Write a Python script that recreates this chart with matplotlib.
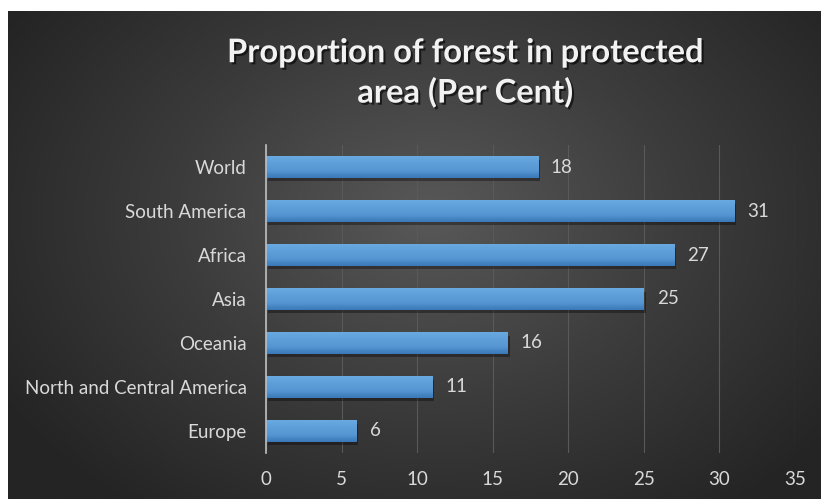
import numpy as np
import matplotlib
matplotlib.use("Agg")
import matplotlib.pyplot as plt
import matplotlib.patheffects as pe
from matplotlib.colors import LinearSegmentedColormap

# Proportion of forest in protected area, per cent
regions = ["World", "South America", "Africa", "Asia", "Oceania",
           "North and Central America", "Europe"]
share = [18, 31, 27, 25, 16, 11, 6]
xticks = [0, 5, 10, 15, 20, 25, 30, 35]

plt.rcParams["font.family"] = ["Lato", "DejaVu Sans"]

W, H = 821, 499
fig = plt.figure(figsize=(W / 100, H / 100), dpi=100, facecolor="white")

# dark backdrop with a soft radial light in the middle
bg = fig.add_axes([8 / W, 0, (W - 9) / W, (H - 11) / H])
bg.set_axis_off()
yy, xx = np.mgrid[0:1:300j, 0:1:500j]
d = np.sqrt(((xx - 0.52) / 0.62) ** 2 + ((yy - 0.58) / 0.75) ** 2)
d = np.clip(d, 0, 1)
bg_cmap = LinearSegmentedColormap.from_list("bg", ["#585858", "#3c3c3c", "#242424"])
bg.imshow(d, cmap=bg_cmap, aspect="auto", extent=[0, 1, 0, 1], origin="lower",
          interpolation="bicubic")
bg.set_xlim(0, 1)
bg.set_ylim(0, 1)

ax = fig.add_axes([266 / W, 1 - 453 / H, (795 - 266) / W, (453 - 145) / H])
ax.set_facecolor("none")

y = np.arange(len(regions))
bars = ax.barh(y, share, height=0.48, color="#5b9bd5", zorder=3)

bar_cmap = LinearSegmentedColormap.from_list("bar", ["#6aaae2", "#5e9fd9", "#5696d2", "#3a78b8"])
grad = np.linspace(0, 1, 64).reshape(-1, 1)
for b in bars:
    x0, y0, w, h = b.get_x(), b.get_y(), b.get_width(), b.get_height()
    # drop shadow under each bar
    ax.add_patch(plt.Rectangle((x0 + 0.12, y0 + 0.07), w, h, color="black",
                               alpha=0.35, zorder=2, lw=0))
    im = ax.imshow(grad, cmap=bar_cmap, aspect="auto", origin="upper",
                   extent=[x0, x0 + w, y0 + h, y0], zorder=4)
    im.set_clip_path(b)
    ax.text(w + 0.85, y0 + h / 2, f"{w:g}", va="center", ha="left",
            color="#d9d9d9", fontsize=13.5, zorder=5)

ax.set_xlim(0, 35)
ax.set_ylim(len(regions) - 0.5, -0.5)
ax.set_xticks(xticks)
ax.set_yticks(y)
ax.set_yticklabels(regions)
ax.tick_params(axis="both", length=0, colors="#d9d9d9", labelsize=13.5)
ax.tick_params(axis="x", pad=13)
ax.tick_params(axis="y", pad=14)
ax.grid(axis="x", color="#595959", lw=0.8, zorder=0)
for s in ["top", "right", "bottom"]:
    ax.spines[s].set_visible(False)
ax.spines["left"].set_color("#bfbfbf")
ax.spines["left"].set_linewidth(1.2)
ax.spines["left"].set_zorder(6)

fig.text(465 / W, 1 - 73 / H, "Proportion of forest in protected\narea (Per Cent)",
         ha="center", va="center", color="#f2f2f2", fontsize=23.5, fontweight="bold",
         linespacing=1.38,
         path_effects=[pe.SimplePatchShadow(offset=(1.5, -1.5), shadow_rgbFace="black", alpha=0.6),
                       pe.Normal()])

fig.savefig("out.png", dpi=100, facecolor="white")
